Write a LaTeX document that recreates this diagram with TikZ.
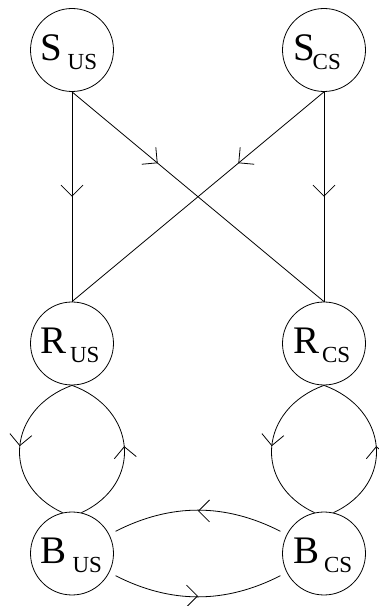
\documentclass[tikz,border=0pt]{standalone}
\usepackage{fontspec}
\setmainfont{Liberation Serif}
\usetikzlibrary{arrows.meta,decorations.markings}

% state label: main letter, gap, lowered subscript
\newcommand{\statelbl}[3]{\makebox[62pt][l]{\fontsize{39}{39}\selectfont #1\hspace{#2}\raisebox{-9pt}{\fontsize{23}{23}\selectfont #3}}}

\tikzset{
  state/.style={circle, draw, line width=0.8pt, minimum size=83pt, inner sep=0pt,
    text height=30pt, text depth=9pt},
  flow/.style={line width=0.8pt},
  midtip/.style={postaction={decorate},
    decoration={markings, mark=at position #1 with
      {\arrow{Straight Barb[length=11pt, width=22pt, line width=0.8pt]}}}},
}

\begin{document}
\begin{tikzpicture}[x=1pt, y=1pt]
  \useasboundingbox (0,0) rectangle (379,606);

  % stimuli
  \node[state] (sus) at (72,556)   {\statelbl{S}{5pt}{US}};
  \node[state] (scs) at (324,556)  {\statelbl{S}{-2pt}{CS}};
  % responses
  \node[state] (rus) at (72,262.5)  {\statelbl{R}{3pt}{US}};
  \node[state] (rcs) at (324,262.5) {\statelbl{R}{3pt}{CS}};
  % behaviours
  \node[state] (bus) at (72,52.5)  {\statelbl{B}{5.5pt}{US}};
  \node[state] (bcs) at (324,52.5) {\statelbl{B}{5pt}{CS}};

  % stimulus -> response links
  \draw[flow, midtip=0.5]  (sus.south) -- (rus.north);
  \draw[flow, midtip=0.34] (sus.south) -- (rcs.north);
  \draw[flow, midtip=0.34] (scs.south) -- (rus.north);
  \draw[flow, midtip=0.5]  (scs.south) -- (rcs.north);

  % response <-> behaviour loops
  \draw[flow, midtip=0.5] (rus.south) to[out=-160, in=155, looseness=1.38] (bus.103);
  \draw[flow, midtip=0.5] (bus.77) to[out=25, in=-20, looseness=1.38] (rus.south);
  \draw[flow, midtip=0.5] (rcs.south) to[out=-160, in=155, looseness=1.38] (bcs.103);
  \draw[flow, midtip=0.5] (bcs.77) to[out=25, in=-20, looseness=1.38] (rcs.south);

  % behaviour <-> behaviour
  \draw[flow, midtip=0.5, shorten <=7pt, shorten >=7pt] (bcs) to[bend right=27] (bus);
  \draw[flow, midtip=0.5, shorten <=7pt, shorten >=7pt] (bus) to[bend right=27] (bcs);
\end{tikzpicture}
\end{document}
